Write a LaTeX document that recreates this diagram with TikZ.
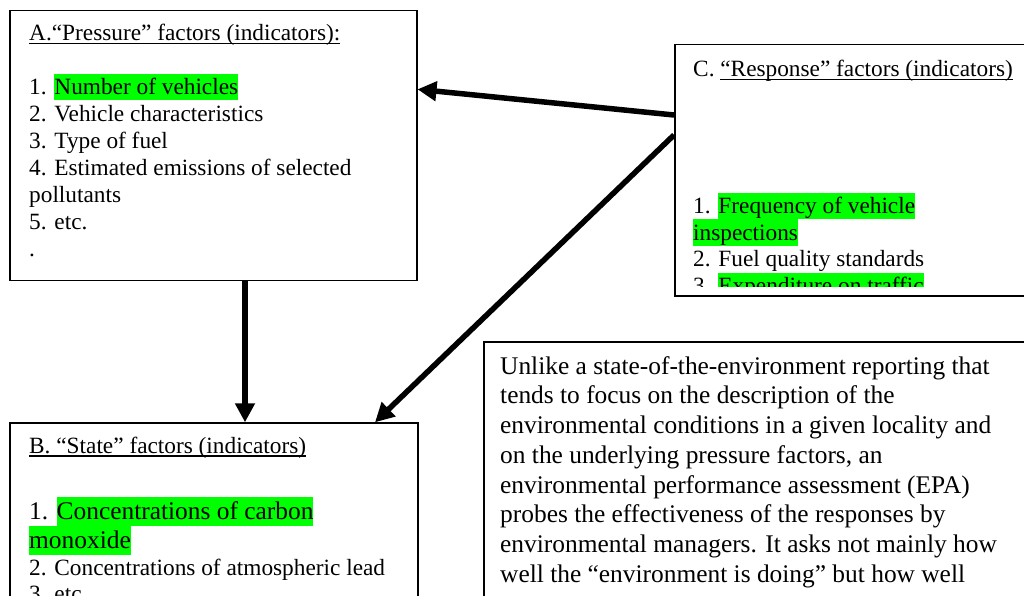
\documentclass[tikz,border=0pt]{standalone}
\usepackage{fontspec}
\setmainfont{Liberation Serif}
\usepackage{tikz}
\usetikzlibrary{calc, arrows.meta}
\definecolor{hlgreen}{RGB}{0, 255, 0}
\newcommand{\hl}[1]{{\setlength{\fboxsep}{0pt}\colorbox{hlgreen}{\rule[-0.26em]{0pt}{1.14em}#1}}}
\newcommand{\uln}[1]{\setbox0\hbox{#1}\rlap{\rule[-3.6pt]{\wd0}{1.6pt}}\box0}

\begin{document}
\begin{tikzpicture}[x=1pt, y=-1pt, >={Triangle[length=19pt, width=19pt]},
  box/.style={draw, line width=1.5pt, anchor=north west, inner sep=0pt},
  txt/.style={anchor=base west, inner sep=0pt, font=\fontsize{23.3}{27}\selectfont},
  bigtxt/.style={anchor=base west, inner sep=0pt, font=\fontsize{25.4}{30}\selectfont},
  link/.style={->, line width=5.5pt}]
  \useasboundingbox (0, 0) rectangle (1024, 596);
  \fill[white] (0, 0) rectangle (1024, 596);
  \clip (0, 0) rectangle (1024, 596);

  % the four boxes
  \node[box, minimum width=407pt, minimum height=269.5pt] (A) at (9, 10) {};
  \node[box, minimum width=380pt, minimum height=251pt] (C) at (674, 44) {};
  \node[box, minimum width=408pt, minimum height=200pt] (B) at (9, 422.3) {};
  \node[box, minimum width=560pt, minimum height=300pt] (D) at (483, 341) {};

  % A: pressure
  \node[txt] (a0) at (29, 40.7) {\uln{A.“Pressure” factors (indicators):}};
  \node[txt] (a1) at (29, 94.3) {1. \hl{Number of vehicles}};
  \node[txt] (a2) at (29, 121.3) {2. Vehicle characteristics};
  \node[txt] (a3) at (29, 148.3) {3. Type of fuel};
  \node[txt] (a4) at (29, 175.3) {4. Estimated emissions of selected};
  \node[txt] (a5) at (29, 202.3) {pollutants};
  \node[txt] (a6) at (29, 229.3) {5. etc.};
  \node[txt] (a7) at (29, 256.3) {.};

  % C: response (text cut off at the bottom)
  \node[txt] (c0) at (693, 76.7) {C. \uln{“Response” factors (indicators)}};
  \begin{scope}
    \clip (C.north west) rectangle ($(C.south east)+(0, -10)$);
    \node[txt] (c1) at (693, 213.3) {1. \hl{Frequency of vehicle}};
    \node[txt] (c2) at (693, 240) {\hl{inspections}};
    \node[txt] (c3) at (693, 266.7) {2. Fuel quality standards};
    \node[txt] (c4) at (693, 293.4) {3. \hl{Expenditure on traffic}};
  \end{scope}

  % B: state
  \node[txt] (b0) at (29, 453.3) {\uln{B. “State” factors (indicators)}};
  \node[bigtxt] (b1) at (29, 519.3) {1. \hl{Concentrations of carbon}};
  \node[bigtxt] (b2) at (29, 548.3) {\hl{monoxide}};
  \node[txt] (b3) at (29, 575) {2. Concentrations of atmospheric lead};
  \node[txt] (b4) at (29, 601.7) {3. etc.};

  % D: note
  \node[bigtxt] (d1) at (500, 374) {Unlike a state-of-the-environment reporting that};
  \node[bigtxt] (d2) at (500, 403.8) {tends to focus on the description of the};
  \node[bigtxt] (d3) at (500, 433.5) {environmental conditions in a given locality and};
  \node[bigtxt] (d4) at (500, 463.3) {on the underlying pressure factors, an};
  \node[bigtxt] (d5) at (500, 493) {environmental performance assessment (EPA)};
  \node[bigtxt] (d6) at (500, 522.8) {probes the effectiveness of the responses by};
  \node[bigtxt] (d7) at (500, 552.6) {environmental managers. It asks not mainly how};
  \node[bigtxt] (d8) at (500, 582.3) {well the “environment is doing” but how well};

  % arrows
  \draw[link] ($(C.north west)+(0, 71)$) -- ($(A.north east)+(0, 79.3)$);
  \draw[link] ($(C.north west)+(0, 91)$) -- ($(B.north west)+(366, 0)$);
  \draw[link] ($(A.south west)+(236, 0)$) -- ($(B.north west)+(236, 0)$);
\end{tikzpicture}
\end{document}
